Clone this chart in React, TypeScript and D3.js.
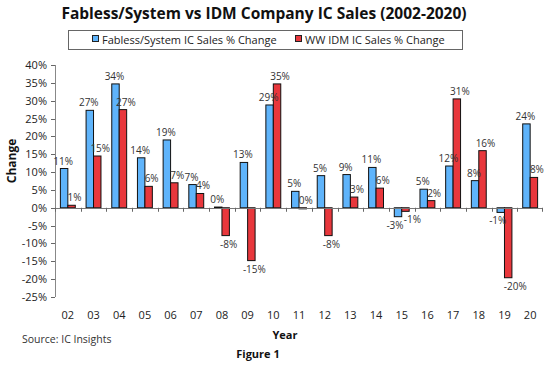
import React from 'react';
import * as d3 from 'd3';

// Data
const years = ['02', '03', '04', '05', '06', '07', '08', '09', '10', '11', '12', '13', '14', '15', '16', '17', '18', '19', '20'];
const fablessValues = [11, 27.3, 34.7, 14, 19, 6.5, 0.2, 12.7, 28.8, 4.6, 9, 9.3, 11.3, -2.5, 5.2, 11.7, 7.6, -1.3, 23.5];
const fablessLabels = ['11%', '27%', '34%', '14%', '19%', '7%', '0%', '13%', '29%', '5%', '5%', '9%', '11%', '-3%', '5%', '12%', '8%', '-1%', '24%'];
const idmValues = [0.7, 14.5, 27.5, 6, 7, 4, -7.8, -14.8, 34.7, -0.3, -7.8, 3, 5.5, -1, 2, 30.5, 16, -19.6, 8.5];
const idmLabels = ['1%', '15%', '27%', '6%', '7%', '4%', '-8%', '-15%', '35%', '0%', '-8%', '3%', '6%', '-1%', '2%', '31%', '16%', '-20%', '8%'];
const yTicks = [40, 35, 30, 25, 20, 15, 10, 5, 0, -5, -10, -15, -20, -25];

const series = [
  { name: 'Fabless/System IC Sales % Change', values: fablessValues, labels: fablessLabels, color: '#5fb4fb', dx: -1 },
  { name: 'WW IDM IC Sales % Change', values: idmValues, labels: idmLabels, color: '#e8373c', dx: 3 },
];

const font = "'Open Sans', sans-serif";

export default function App() {
  const width = 558;
  const height = 371;

  // Plot area
  const left = 55;
  const right = 543;
  const top = 65;
  const bottom = 297;

  const x = d3.scaleBand<string>().domain(years).range([left, right]).padding(0);
  const y = d3.scaleLinear().domain([-25, 40]).range([bottom, top]);
  const bw = x.bandwidth();
  const barW = bw * 0.29;
  const groupOff = (bw - barW * 2) / 2;
  const y0 = y(0);

  return (
    <svg width={width} height={height} style={{ position: 'absolute', left: 0, top: 0, background: '#fff' }} fontFamily={font}>
      <rect width={width} height={height} fill="#fff" />

      {/* Title */}
      <text x={264} y={19} textAnchor="middle" fontSize={15.5} fontWeight="bold" fill="#111">
        Fabless/System vs IDM Company IC Sales (2002-2020)
      </text>

      {/* Legend */}
      <rect x={68.5} y={30.5} width={394} height={19} fill="#fff" stroke="#666" strokeWidth={1} />
      <rect x={92.5} y={35.5} width={6} height={6} fill={series[0].color} stroke="#222" />
      <text x={102} y={44} fontSize={11} fill="#222">{series[0].name}</text>
      <rect x={295.5} y={35.5} width={6} height={6} fill={series[1].color} stroke="#222" />
      <text x={305} y={44} fontSize={11} fill="#222">{series[1].name}</text>

      {/* Y axis */}
      <line x1={left + 0.5} x2={left + 0.5} y1={top} y2={bottom} stroke="#888" />
      {yTicks.map(t => (
        <g key={t}>
          <line x1={left - 4} x2={left + (t === 0 ? 4 : 0)} y1={Math.round(y(t)) + 0.5} y2={Math.round(y(t)) + 0.5} stroke="#666" />
          <text x={47} y={y(t) + 4} textAnchor="end" fontSize={11} fill="#222">{t}%</text>
        </g>
      ))}
      <text transform={`translate(16, 161) rotate(-90)`} textAnchor="middle" fontSize={12} fontWeight="bold" fill="#111">Change</text>

      {/* Bars */}
      {series.map((s, si) => (
        <g key={s.name}>
          {s.values.map((v, i) => {
            const bx = (x(years[i]) as number) + groupOff + si * barW;
            const yt = Math.min(y(v), y0);
            const h = Math.abs(y(v) - y0);
            return (
              <rect key={i} x={bx} y={yt} width={barW} height={Math.max(h, 0.5)} fill={s.color} stroke="#111" strokeWidth={1} />
            );
          })}
        </g>
      ))}

      {/* X axis */}
      <line x1={left} x2={right} y1={Math.round(y0) + 0.5} y2={Math.round(y0) + 0.5} stroke="#777" />
      {years.map(yr => (
        <line key={'t' + yr} x1={Math.round(x(yr) as number) + 0.5} x2={Math.round(x(yr) as number) + 0.5} y1={y0} y2={y0 + 4} stroke="#666" />
      ))}
      <line x1={right - 0.5} x2={right - 0.5} y1={y0} y2={y0 + 4} stroke="#666" />
      {years.map(yr => (
        <text key={'l' + yr} x={(x(yr) as number) + bw / 2} y={319} textAnchor="middle" fontSize={11} fill="#222">{yr}</text>
      ))}
      <text x={285} y={339} textAnchor="middle" fontSize={11} fontWeight="bold" fill="#111">Year</text>

      {/* Data labels */}
      {series.map((s, si) => (
        <g key={'dl' + s.name}>
          {s.values.map((v, i) => {
            // both bars below zero: spread the two labels apart
            const bothNeg = fablessLabels[i].startsWith('-') && idmLabels[i].startsWith('-');
            const spread = bothNeg ? (si === 0 ? -2 : 4) : 0;
            const cx = (x(years[i]) as number) + groupOff + si * barW + barW / 2 + s.dx + spread;
            const neg = s.labels[i].startsWith('-');
            const ly = neg ? y(v) + 12 : Math.min(y(v), y0) - 4;
            return (
              <text key={i} x={cx} y={ly} textAnchor="middle" fontSize={10} fill="#333">{s.labels[i]}</text>
            );
          })}
        </g>
      ))}

      {/* Footer */}
      <text x={22} y={343} fontSize={10.5} fill="#333">Source: IC Insights</text>
      <text x={258} y={358} textAnchor="middle" fontSize={11} fontWeight="bold" fill="#111">Figure 1</text>
    </svg>
  );
}
